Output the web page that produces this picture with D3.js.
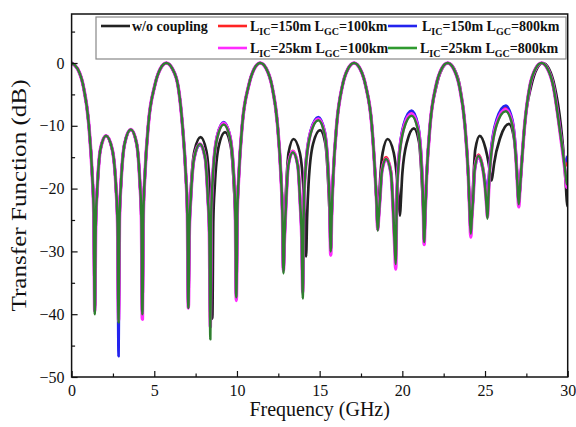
<!DOCTYPE html>
<html><head><meta charset="utf-8">
<script src="https://cdn.jsdelivr.net/npm/d3@7"></script>
<style>body{margin:0;background:#fff}svg{display:block}svg text{font-family:"Times New Roman",Times,"Liberation Serif","DejaVu Serif",serif}</style>
</head><body>
<svg id="chart" width="576" height="427"></svg>
<script>
const xTicks = [0,5,10,15,20,25,30];
const yTicks = [-50,-40,-30,-20,-10,0];

const woCoupling = [[0,0],[0.36,-0.9],[0.71,-3.7],[1.04,-9.8],[1.25,-18],[1.34,-24],[1.40,-39],
[1.46,-25.6],[1.55,-20.1],[1.74,-13.8],[2.08,-11.6],[2.46,-13.8],[2.69,-20.1],[2.78,-25.6],[2.84,-40],
[2.90,-24.6],[2.99,-19.1],[3.21,-12.8],[3.58,-10.6],[3.93,-12.8],[4.13,-19.1],[4.22,-24.6],[4.28,-40],
[4.34,-24],[4.43,-18],[4.64,-9.8],[5.02,-3.7],[5.37,-0.9],[5.73,0],[6.09,-0.9],[6.44,-3.7],[6.70,-9.8],[6.91,-18],[7.00,-24],[7.06,-38],
[7.12,-25.8],[7.21,-20.3],[7.43,-14],[7.80,-11.8],[8.15,-14],[8.36,-20.3],[8.45,-25.8],[8.51,-40.7],
[8.57,-25],[8.66,-19.5],[8.90,-13.2],[9.28,-11],[9.62,-13.2],[9.81,-19.5],[9.90,-25],[9.96,-37],
[10.02,-24],[10.11,-18],[10.32,-9.8],[10.70,-3.7],[11.05,-0.9],[11.41,0],[11.77,-0.9],[12.12,-3.7],[12.45,-9.8],[12.66,-18],[12.75,-24],[12.81,-33],
[12.87,-26.1],[12.96,-20.6],[13.12,-14.3],[13.42,-12.1],[13.80,-14.3],[14.03,-20.6],[14.12,-26.1],[14.18,-30.8],
[14.24,-24.7],[14.33,-19.2],[14.60,-12.9],[15.03,-10.7],[15.35,-12.9],[15.52,-19.2],[15.61,-24.7],[15.67,-30],
[15.73,-24],[15.82,-18],[16.03,-9.8],[16.37,-3.7],[16.72,-0.9],[17.08,0],[17.44,-0.9],[17.79,-3.7],[18.15,-9.8],[18.36,-18],[18.45,-22.5],[18.51,-26],
[18.57,-23],[18.66,-18.5],[18.81,-14.3],[19.11,-12.1],[19.48,-14.3],[19.70,-19],[19.80,-22.5],[19.86,-24.3],
[19.91,-22],[20.00,-17.6],[20.28,-12.6],[20.70,-10.4],[21.01,-12.6],[21.17,-18.4],[21.26,-23.5],[21.32,-28.3],
[21.38,-24],[21.47,-18],[21.68,-9.8],[22.06,-3.7],[22.41,-0.9],[22.77,0],[23.13,-0.9],[23.48,-3.7],[23.78,-9.8],[23.99,-18],[24.08,-24],[24.14,-27],
[24.20,-24],[24.29,-19],[24.41,-13.8],[24.68,-11.6],[25.03,-13.6],[25.22,-16],[25.33,-18],[25.39,-18.7],
[25.45,-18],[25.55,-16],[25.92,-11.9],[26.45,-9.7],[26.75,-11.9],[26.92,-17],[26.99,-20.5],[27.04,-22.5],
[27.10,-20.5],[27.19,-17],[27.40,-9.8],[27.79,-3.7],[28.14,-0.9],[28.50,0],[28.86,-0.9],[29.21,-3.7],[29.58,-9.8],[29.80,-16],[29.90,-20],[29.97,-22.8],[30,-22.3]];

const ic150gc100 = [[0,0],[0.36,-0.9],[0.71,-3.7],[1.04,-9.8],[1.25,-18],[1.34,-24],[1.40,-39],
[1.46,-25.6],[1.55,-20.1],[1.74,-13.8],[2.08,-11.6],[2.46,-13.8],[2.69,-20.1],[2.78,-25.6],[2.84,-42],
[2.90,-24.6],[2.99,-19.1],[3.21,-12.8],[3.58,-10.6],[3.93,-12.8],[4.13,-19.1],[4.22,-24.6],[4.28,-40],
[4.34,-24],[4.43,-18],[4.64,-9.8],[5.02,-3.7],[5.37,-0.9],[5.73,0],[6.09,-0.9],[6.44,-3.7],[6.70,-9.8],[6.91,-18],[7.00,-24],[7.06,-38.5],
[7.12,-26.9],[7.21,-21.4],[7.41,-15.1],[7.76,-12.9],[8.08,-15.1],[8.24,-21.4],[8.33,-26.9],[8.39,-41],
[8.45,-23.5],[8.54,-18],[8.80,-11.7],[9.20,-9.5],[9.58,-11.7],[9.81,-18],[9.90,-23.5],[9.96,-37.3],
[10.02,-24],[10.11,-18],[10.32,-9.8],[10.70,-3.7],[11.05,-0.9],[11.41,0],[11.77,-0.9],[12.12,-3.7],[12.45,-9.8],[12.66,-18],[12.75,-24],[12.81,-33],
[12.87,-28],[12.96,-22.5],[13.10,-16.2],[13.38,-14.0],[13.68,-16.2],[13.83,-22.5],[13.92,-28],[13.98,-36],
[14.04,-22.8],[14.13,-17.3],[14.45,-11],[14.92,-8.8],[15.30,-11],[15.52,-17.3],[15.61,-22.8],[15.67,-30],
[15.73,-24],[15.82,-18],[16.03,-9.8],[16.37,-3.7],[16.72,-0.9],[17.08,0],[17.44,-0.9],[17.79,-3.7],[18.15,-9.8],[18.36,-18],[18.45,-22.5],[18.51,-26.5],
[18.57,-24.5],[18.66,-21],[18.76,-17],[19.02,-15],[19.31,-17.2],[19.45,-23.5],[19.54,-29],[19.60,-31],
[19.66,-21.9],[19.75,-16.4],[20.08,-10.1],[20.56,-7.9],[20.94,-10.1],[21.17,-16.4],[21.26,-21.9],[21.32,-28.5],
[21.38,-24],[21.47,-18],[21.68,-9.8],[22.03,-3.7],[22.38,-0.9],[22.74,0],[23.10,-0.9],[23.45,-3.7],[23.78,-9.8],[23.99,-18],[24.08,-24],[24.14,-27],
[24.20,-24.5],[24.29,-21],[24.37,-16.8],[24.60,-14.6],[24.86,-16.5],[25.00,-19],[25.10,-21.3],[25.15,-22],
[25.20,-20.5],[25.30,-16],[25.70,-9.4],[26.25,-7.2],[26.65,-9.4],[26.89,-15.7],[26.98,-20],[27.04,-22.5],
[27.10,-20.5],[27.19,-17],[27.40,-9.8],[27.71,-3.7],[28.06,-0.9],[28.42,0],[28.78,-0.9],[29.13,-3.7],[29.48,-9.8],[29.70,-14],[29.84,-16.5],[30,-15.3]];

const ic150gc800 = [[0,0],[0.36,-0.9],[0.71,-3.7],[1.04,-9.8],[1.25,-18],[1.34,-24],[1.40,-39],
[1.46,-25.6],[1.55,-20.1],[1.74,-13.8],[2.08,-11.6],[2.46,-13.8],[2.69,-20.1],[2.78,-25.6],[2.84,-46.7],
[2.90,-24.6],[2.99,-19.1],[3.21,-12.8],[3.58,-10.6],[3.93,-12.8],[4.13,-19.1],[4.22,-24.6],[4.28,-40],
[4.34,-24],[4.43,-18],[4.64,-9.8],[5.02,-3.7],[5.37,-0.9],[5.73,0],[6.09,-0.9],[6.44,-3.7],[6.70,-9.8],[6.91,-18],[7.00,-24],[7.06,-38.5],
[7.12,-27.1],[7.21,-21.6],[7.41,-15.3],[7.76,-13.1],[8.08,-15.3],[8.24,-21.6],[8.33,-27.1],[8.39,-40],
[8.45,-23.4],[8.54,-17.9],[8.80,-11.6],[9.20,-9.4],[9.58,-11.6],[9.81,-17.9],[9.90,-23.4],[9.96,-37.3],
[10.02,-24],[10.11,-18],[10.32,-9.8],[10.70,-3.7],[11.05,-0.9],[11.41,0],[11.77,-0.9],[12.12,-3.7],[12.45,-9.8],[12.66,-18],[12.75,-24],[12.81,-33],
[12.87,-28.2],[12.96,-22.7],[13.10,-16.4],[13.38,-14.2],[13.68,-16.4],[13.83,-22.7],[13.92,-28.2],[13.98,-35.5],
[14.04,-22.6],[14.13,-17.1],[14.45,-10.8],[14.92,-8.6],[15.30,-10.8],[15.52,-17.1],[15.61,-22.6],[15.67,-30],
[15.73,-24],[15.82,-18],[16.03,-9.8],[16.37,-3.7],[16.72,-0.9],[17.08,0],[17.44,-0.9],[17.79,-3.7],[18.15,-9.8],[18.36,-18],[18.45,-22.5],[18.51,-26.5],
[18.57,-24.5],[18.66,-21.2],[18.76,-17.4],[19.02,-15.4],[19.31,-17.6],[19.45,-23],[19.54,-27.5],[19.60,-30],
[19.66,-21.6],[19.75,-16.1],[20.08,-9.8],[20.56,-7.6],[20.94,-9.8],[21.17,-16.1],[21.26,-21.6],[21.32,-28.5],
[21.38,-24],[21.47,-18],[21.68,-9.8],[22.03,-3.7],[22.38,-0.9],[22.74,0],[23.10,-0.9],[23.45,-3.7],[23.78,-9.8],[23.99,-18],[24.08,-24],[24.14,-27],
[24.20,-24.5],[24.29,-21.2],[24.37,-17.2],[24.60,-15],[24.86,-16.8],[25.00,-18.6],[25.10,-20.1],[25.15,-20.6],
[25.20,-19.3],[25.30,-15.5],[25.70,-9],[26.25,-6.8],[26.65,-9],[26.89,-15.3],[26.98,-20],[27.04,-22.5],
[27.10,-20.5],[27.19,-17],[27.40,-9.8],[27.71,-3.7],[28.06,-0.9],[28.42,0],[28.78,-0.9],[29.13,-3.7],[29.48,-9.6],[29.68,-13.5],[29.82,-15.8],[30,-14.8]];

const ic25gc100 = [[0,0],[0.36,-0.9],[0.71,-3.7],[1.04,-9.8],[1.25,-18],[1.34,-24],[1.40,-39.5],
[1.46,-25.6],[1.55,-20.1],[1.74,-13.8],[2.08,-11.6],[2.46,-13.8],[2.69,-20.1],[2.78,-25.6],[2.84,-41],
[2.90,-24.6],[2.99,-19.1],[3.21,-12.8],[3.58,-10.6],[3.93,-12.8],[4.13,-19.1],[4.22,-24.6],[4.28,-40.8],
[4.34,-24],[4.43,-18],[4.64,-9.8],[5.02,-3.7],[5.37,-0.9],[5.73,0],[6.09,-0.9],[6.44,-3.7],[6.70,-9.8],[6.91,-18],[7.00,-24],[7.06,-39],
[7.12,-26.9],[7.21,-21.4],[7.41,-15.1],[7.76,-12.9],[8.08,-15.1],[8.24,-21.4],[8.33,-26.9],[8.39,-42],
[8.45,-23.6],[8.54,-18.1],[8.80,-11.8],[9.20,-9.6],[9.58,-11.8],[9.81,-18.1],[9.90,-23.6],[9.96,-37.8],
[10.02,-24],[10.11,-18],[10.32,-9.8],[10.70,-3.7],[11.05,-0.9],[11.41,0],[11.77,-0.9],[12.12,-3.7],[12.45,-9.8],[12.66,-18],[12.75,-24],[12.81,-33],
[12.87,-28.1],[12.96,-22.6],[13.10,-16.3],[13.38,-14.1],[13.68,-16.3],[13.83,-22.6],[13.92,-28.1],[13.98,-36.5],
[14.04,-22.9],[14.13,-17.4],[14.45,-11.1],[14.92,-8.9],[15.30,-11.1],[15.52,-17.4],[15.61,-22.9],[15.67,-30.6],
[15.73,-24],[15.82,-18],[16.03,-9.8],[16.37,-3.7],[16.72,-0.9],[17.08,0],[17.44,-0.9],[17.79,-3.7],[18.15,-9.8],[18.36,-18],[18.45,-22.5],[18.51,-26.5],
[18.57,-24.5],[18.66,-21.1],[18.76,-17.3],[19.02,-15.3],[19.31,-17.5],[19.45,-23.8],[19.54,-29.3],[19.60,-32.8],
[19.66,-22.1],[19.75,-16.6],[20.08,-10.3],[20.56,-8.1],[20.94,-10.3],[21.17,-16.6],[21.26,-22.1],[21.32,-28.9],
[21.38,-24],[21.47,-18],[21.68,-9.8],[22.03,-3.7],[22.38,-0.9],[22.74,0],[23.10,-0.9],[23.45,-3.7],[23.78,-9.8],[23.99,-18],[24.08,-24],[24.14,-27.7],
[24.20,-24.8],[24.29,-21.1],[24.37,-17],[24.60,-14.8],[24.86,-16.7],[25.00,-19.5],[25.10,-22.8],[25.15,-24.5],
[25.20,-21.5],[25.30,-16.5],[25.70,-9.6],[26.25,-7.4],[26.65,-9.6],[26.89,-15.9],[26.98,-20.3],[27.04,-22.9],
[27.10,-20.5],[27.19,-17],[27.40,-9.8],[27.71,-3.7],[28.06,-0.9],[28.42,0],[28.78,-0.9],[29.13,-3.7],[29.48,-9.8],[29.70,-14.2],[29.85,-17.4],[29.95,-19.8],[30,-19.5]];

const ic25gc800 = [[0,0],[0.36,-0.9],[0.71,-3.7],[1.04,-9.8],[1.25,-18],[1.34,-24],[1.40,-40],
[1.46,-25.6],[1.55,-20.1],[1.74,-13.8],[2.08,-11.6],[2.46,-13.8],[2.69,-20.1],[2.78,-25.6],[2.84,-41.3],
[2.90,-24.6],[2.99,-19.1],[3.21,-12.8],[3.58,-10.6],[3.93,-12.8],[4.13,-19.1],[4.22,-24.6],[4.28,-40],
[4.34,-24],[4.43,-18],[4.64,-9.8],[5.02,-3.7],[5.37,-0.9],[5.73,0],[6.09,-0.9],[6.44,-3.7],[6.70,-9.8],[6.91,-18],[7.00,-24],[7.06,-39],
[7.12,-26.9],[7.21,-21.4],[7.41,-15.1],[7.76,-12.9],[8.08,-15.1],[8.24,-21.4],[8.33,-26.9],[8.39,-44],
[8.45,-23.8],[8.54,-18.3],[8.80,-12],[9.20,-9.8],[9.58,-12],[9.81,-18.3],[9.90,-23.8],[9.96,-37.3],
[10.02,-24],[10.11,-18],[10.32,-9.8],[10.70,-3.7],[11.05,-0.9],[11.41,0],[11.77,-0.9],[12.12,-3.7],[12.45,-9.8],[12.66,-18],[12.75,-24],[12.81,-33.5],
[12.87,-28.2],[12.96,-22.7],[13.10,-16.4],[13.38,-14.2],[13.68,-16.4],[13.83,-22.7],[13.92,-28.2],[13.98,-37.5],
[14.04,-23.1],[14.13,-17.6],[14.45,-11.3],[14.92,-9.1],[15.30,-11.3],[15.52,-17.6],[15.61,-23.1],[15.67,-30],
[15.73,-24],[15.82,-18],[16.03,-9.8],[16.37,-3.7],[16.72,-0.9],[17.08,0],[17.44,-0.9],[17.79,-3.7],[18.15,-9.8],[18.36,-18],[18.45,-22.7],[18.51,-26.7],
[18.57,-24.6],[18.66,-21.1],[18.76,-17.3],[19.02,-15.3],[19.31,-17.5],[19.45,-23.6],[19.54,-29],[19.60,-32],
[19.66,-22.4],[19.75,-16.9],[20.08,-10.6],[20.56,-8.4],[20.94,-10.6],[21.17,-16.9],[21.26,-22.4],[21.32,-28.5],
[21.38,-24],[21.47,-18],[21.68,-9.8],[22.03,-3.7],[22.38,-0.9],[22.74,0],[23.10,-0.9],[23.45,-3.7],[23.78,-9.8],[23.99,-18],[24.08,-24],[24.14,-27.2],
[24.20,-24.7],[24.29,-21.1],[24.37,-17],[24.60,-14.8],[24.86,-16.7],[25.00,-19.6],[25.10,-23],[25.15,-24.8],
[25.20,-21.7],[25.30,-16.7],[25.70,-9.9],[26.25,-7.7],[26.65,-9.9],[26.89,-16],[26.98,-20.2],[27.04,-22.5],
[27.10,-20.5],[27.19,-17],[27.40,-9.8],[27.71,-3.7],[28.06,-0.9],[28.42,0],[28.78,-0.9],[29.13,-3.7],[29.48,-9.8],[29.70,-14],[29.85,-17.2],[29.95,-19.2],[30,-19.4]];

const svg = d3.select("#chart");
const W = 576, H = 427;
svg.append("rect").attr("width",W).attr("height",H).attr("fill","#fff");

const x = d3.scaleLinear().domain([0,30]).range([71.6,567.7]);
const y = d3.scaleLinear().domain([-50,7.8]).range([377,14]);

svg.append("clipPath").attr("id","clip").append("rect")
  .attr("x",x(0)).attr("y",y(7.8)).attr("width",x(30)-x(0)).attr("height",y(-50)-y(7.8));

const line = d3.line().x(d=>x(d[0])).y(d=>y(d[1])).curve(d3.curveMonotoneX);

const series = [
  {data: woCoupling, color:"#222222", w:2.7},
  {data: ic150gc100, color:"#ff2424", w:2.7},
  {data: ic150gc800, color:"#2323ee", w:2.7},
  {data: ic25gc100, color:"#ff2cff", w:3.5},
  {data: ic25gc800, color:"#2f7f2f", w:2.5}
];
const g = svg.append("g").attr("clip-path","url(#clip)");
series.forEach(s=>{
  g.append("path").attr("d",line(s.data)).attr("fill","none")
   .attr("stroke",s.color).attr("stroke-width",s.w).attr("stroke-linejoin","round");
});

const font = '"Times New Roman",Times,"Liberation Serif","DejaVu Serif",serif';
const xAxis = d3.axisBottom(x).tickValues(xTicks).tickSize(-6).tickPadding(8).tickFormat(d3.format("d"));
const xa = svg.append("g").attr("transform",`translate(0,${y(-50)})`).call(xAxis);
const xMinor = d3.axisBottom(x).tickValues([2.5,7.5,12.5,17.5,22.5,27.5]).tickSize(-3.5).tickFormat("");
const xm = svg.append("g").attr("transform",`translate(0,${y(-50)})`).call(xMinor);
xm.selectAll("text").remove();
const yAxis = d3.axisLeft(y).tickValues(yTicks).tickSize(-6).tickPadding(7).tickFormat(d3.format("d"));
const ya = svg.append("g").attr("transform",`translate(${x(0)},0)`).call(yAxis);
const yMinor = d3.axisLeft(y).tickValues([-45,-35,-25,-15,-5,5]).tickSize(-3.5).tickFormat("");
const ym = svg.append("g").attr("transform",`translate(${x(0)},0)`).call(yMinor);
ym.selectAll("text").remove();
svg.selectAll(".tick line").attr("stroke","#111").attr("stroke-width",1.2);
svg.selectAll(".domain").remove();
[xa,ya,xm,ym].forEach(a=>a.attr("font-family",font));
[xa,ya].forEach(a=>a.selectAll("text").style("font-family",font).attr("font-size",16).attr("fill","#111"));
xa.selectAll("text").attr("dy","0.7em");

svg.append("rect").attr("x",x(0)).attr("y",y(7.8)).attr("width",x(30)-x(0)).attr("height",y(-50)-y(7.8))
  .attr("fill","none").attr("stroke","#111").attr("stroke-width",1.5);

svg.append("text").attr("x",(x(0)+x(30))/2).attr("y",416).attr("text-anchor","middle")
  .style("font-family",font).attr("font-size",20).attr("fill","#111").text("Frequency (GHz)");
svg.append("text").attr("transform",`translate(26,${(y(-50)+y(7.8))/2}) rotate(-90)`).attr("text-anchor","middle")
  .style("font-family",font).attr("font-size",20).attr("fill","#111")
  .attr("textLength",232).attr("lengthAdjust","spacingAndGlyphs").text("Transfer Function (dB)");

const lg = svg.append("g");
lg.append("rect").attr("x",96).attr("y",17).attr("width",470).attr("height",42)
  .attr("fill","#fff").attr("stroke","#888").attr("stroke-width",1.2);
const legendItems = [
  {color:"#222222", x1:101, tx:132, row:0, parts:[["w/o coupling",""]]},
  {color:"#ff2424", x1:218, tx:250, row:0, parts:[["L","IC"],["=150m L","GC"],["=100km",""]]},
  {color:"#2323ee", x1:388, tx:422, row:0, parts:[["L","IC"],["=150m L","GC"],["=800km",""]]},
  {color:"#ff2cff", x1:218, tx:250, row:1, parts:[["L","IC"],["=25km L","GC"],["=100km",""]]},
  {color:"#2f9a2f", x1:388, tx:420, row:1, parts:[["L","IC"],["=25km L","GC"],["=800km",""]]}
];
legendItems.forEach(it=>{
  const cy = it.row===0 ? 26 : 48;
  lg.append("line").attr("x1",it.x1).attr("x2",it.x1+29).attr("y1",cy).attr("y2",cy)
    .attr("stroke",it.color).attr("stroke-width",2.6);
  const t = lg.append("text").attr("x",it.tx).attr("y",cy+5).style("font-family",font)
    .attr("font-size",14).attr("font-weight","bold").attr("fill","#111");
  let lowered = false;
  it.parts.forEach(p=>{
    t.append("tspan").attr("dy", lowered ? -4 : 0).text(p[0]);
    lowered = false;
    if(p[1]) { t.append("tspan").attr("font-size",10).attr("dy",4).text(p[1]); lowered = true; }
  });
});
</script>
</body></html>
